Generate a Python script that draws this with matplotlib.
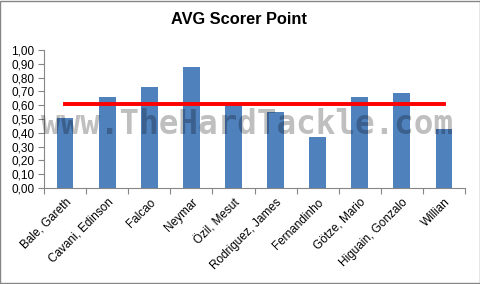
import matplotlib
matplotlib.use("Agg")
import matplotlib.pyplot as plt
import numpy as np
from matplotlib.patches import Rectangle

players = ["Bale, Gareth", "Cavani, Edinson", "Falcao", "Neymar", "Özil, Mesut",
           "Rodriguez, James", "Fernandinho", "Götze, Mario", "Higuain, Gonzalo", "Willian"]
avg_points = [0.51, 0.66, 0.73, 0.88, 0.61, 0.55, 0.37, 0.66, 0.69, 0.43]
mean_value = [0.61] * len(players)
y_ticks = [0.0, 0.1, 0.2, 0.3, 0.4, 0.5, 0.6, 0.7, 0.8, 0.9, 1.0]

plt.rcParams['font.family'] = ['Liberation Sans', 'DejaVu Sans']

fig = plt.figure(figsize=(4.81, 2.84), dpi=100)
ax = fig.add_axes([44/481, 1-188/284, (465-44)/481, (188-50)/284])

x = np.arange(len(players))
ax.bar(x, avg_points, width=0.4, color="#4f81bd", zorder=2)
ax.plot(x, mean_value, color="#ff0000", lw=2.8, zorder=3)

ax.set_xlim(-0.5, len(players) - 0.5)
ax.set_ylim(0, 1.0)
ax.set_yticks(y_ticks)
ax.set_yticklabels([f"{v:.2f}".replace(".", ",") for v in y_ticks], fontsize=8.5)

ax.set_xticks(np.arange(-0.5, len(players), 1.0))
ax.set_xticklabels([])
ax.set_xticks(x, minor=True)
ax.set_xticklabels(players, minor=True, rotation=45, ha="right", va="top",
                   rotation_mode="anchor", fontsize=8.5)
ax.tick_params(axis="x", which="minor", length=0, pad=6)
ax.tick_params(axis="x", which="major", length=4, color="#868686", direction="out")
ax.tick_params(axis="y", length=4, color="#868686", direction="out", pad=3)

for s in ["top", "right"]:
    ax.spines[s].set_visible(False)
for s in ["left", "bottom"]:
    ax.spines[s].set_color("#868686")
    ax.spines[s].set_linewidth(0.8)

fig.text(239/481, 1-20/284, "AVG Scorer Point", ha="center", va="center",
         fontsize=11.8, fontweight="bold")

fig.text(247/481, 1-125/284, "www.TheHardTackle.com", ha="center", va="center",
         fontsize=23.5, fontweight="bold", family="DejaVu Sans Mono",
         color="black", alpha=0.25, zorder=10)

fig.patches.append(Rectangle((0.001, 0.002), 0.997, 0.995, transform=fig.transFigure,
                             fill=False, edgecolor="#868686", lw=1))

fig.savefig("out.png", dpi=100)
